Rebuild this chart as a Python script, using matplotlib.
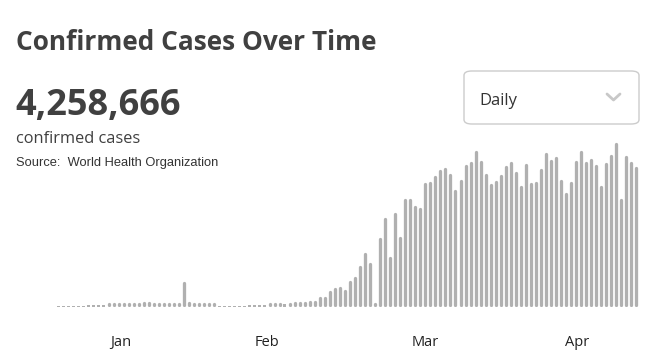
import matplotlib.pyplot as plt
from matplotlib.patches import FancyBboxPatch
from matplotlib.lines import Line2D

# daily confirmed cases, one bar per day
daily_cases = [
    100, 150, 280, 320, 480, 550, 700, 800, 1000, 1180,
    1600, 1600, 1600, 1600, 1770, 1950, 2360, 2780, 2960, 2540,
    2360, 1950, 1950, 1770, 1600, 14700, 2960, 1770, 1600, 1600,
    1600, 1600, 470, 350, 470, 300, 400, 470, 600, 1000,
    1000, 1180, 1360, 1600, 1480, 1300, 1890, 3250, 3250, 3250,
    3840, 3840, 5790, 6210, 9750, 11350, 12120, 10170, 15250, 18030,
    24110, 32030, 26000, 1480, 41070, 52720, 29850, 55440, 41670, 63710,
    63710, 59990, 58390, 73580, 73990, 77300, 81260, 82030, 78900, 69440,
    75180, 84220, 85990, 92490, 86170, 78720, 72810, 74350, 78310, 83450,
    85810, 79670, 71390, 84630, 73400, 73990, 81440, 90900, 86990, 88950,
    75180, 67490, 74170, 86580, 92080, 85580, 87590, 84220, 71810, 85220,
    89710, 96810, 63950, 89540, 85810, 82860,
]
month_labels = ['Jan', 'Feb', 'Mar', 'Apr']
month_pos = [12.4, 41.5, 73.0, 103.2]

total_text = '4,258,666'
bar_color = '#b0b0b0'
W, H = 654, 361

fig = plt.figure(figsize=(W / 100, H / 100), dpi=100)

# axes placed so the day grid lands where it does in the picture
ax_bottom, ax_top = 306.5, 140
ax = fig.add_axes([0, 1 - ax_bottom / H, 1, (ax_bottom - ax_top) / H])
ax.set_xlim(-58.5 / 5.025, (W - 58.5) / 5.025)
ax.set_ylim(0, 98400)

px = 98400 / (ax_bottom - ax_top)   # cases per pixel
bw = 3.3                            # bar width in px
lw = bw * 72 / 100
r = bw / 2 * px
for i, v in enumerate(daily_cases):
    if v / px >= 2.2:
        top = max(r + 0.4 * px, v - r)
        ax.vlines(i, r, top, colors=bar_color, linewidth=lw, capstyle='round')
    else:
        ax.bar(i, v, width=0.6, color=bar_color, linewidth=0)

ax.set_xticks(month_pos)
ax.set_xticklabels(month_labels, fontsize=10.5, color='#222222', family='Open Sans')
ax.tick_params(axis='x', length=0, pad=20.5)
ax.set_yticks([])
for s in ax.spines.values():
    s.set_visible(False)
ax.patch.set_alpha(0)


def ftext(x, y, s, **kw):
    fig.text(x / W, 1 - y / H, s, va='baseline', **kw)


ftext(16, 50, 'Confirmed Cases Over Time', fontsize=18.9, fontweight='bold',
      color='#404040', family='Open Sans')
ftext(15, 115, total_text, fontsize=26, fontweight='bold', color='#404040', family='Open Sans')
ftext(16, 142.7, 'confirmed cases', fontsize=11.8, color='#404040', family='Open Sans')
ftext(16, 165.7, 'Source:  World Health Organization', fontsize=9.3, color='#333333',
      family='Liberation Sans')

# "Daily" dropdown box
box = FancyBboxPatch((464 / W, 1 - 124 / H), 175 / W, 53 / H,
                     boxstyle='round,pad=0,rounding_size=0.012',
                     transform=fig.transFigure, facecolor='white',
                     edgecolor='#cccccc', linewidth=1)
fig.patches.append(box)
ftext(479, 105, 'Daily', fontsize=12, color='#333333', family='Open Sans')
fig.lines.append(Line2D([607 / W, 613.5 / W, 620 / W],
                        [1 - 94 / H, 1 - 100 / H, 1 - 94 / H],
                        transform=fig.transFigure, color='#c8c8c8',
                        linewidth=2, solid_capstyle='round', solid_joinstyle='round'))

plt.savefig('out.png', dpi=100)
